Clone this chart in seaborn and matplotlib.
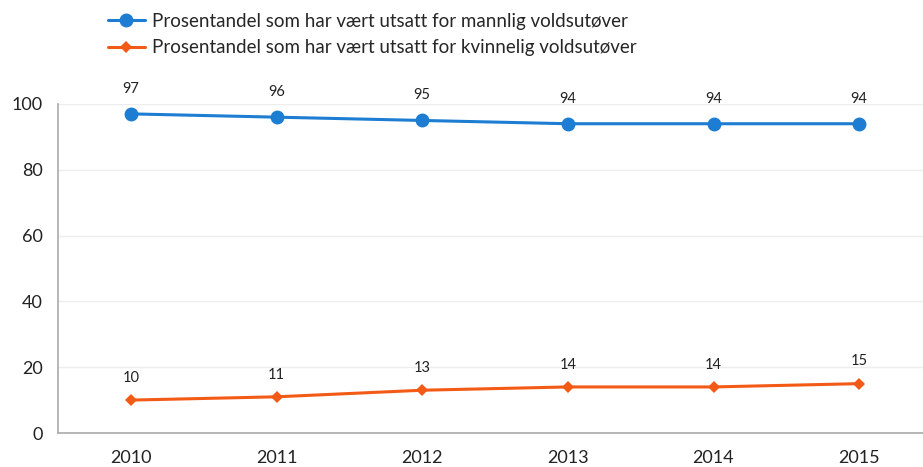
import numpy as np
import pandas as pd
import seaborn as sns
import matplotlib.pyplot as plt

sns.set_style('white')
plt.rcParams['font.family'] = ['Lato', 'DejaVu Sans']

years = ['2010', '2011', '2012', '2013', '2014', '2015']
mannlig = [97, 96, 95, 94, 94, 94]
kvinnelig = [10, 11, 13, 14, 14, 15]
lbl_m = 'Prosentandel som har vært utsatt for mannlig voldsutøver'
lbl_k = 'Prosentandel som har vært utsatt for kvinnelig voldsutøver'

blue = '#1C7DD2'
orange = '#F25A16'

df = pd.DataFrame({'year': years, 'mannlig': mannlig, 'kvinnelig': kvinnelig})

fig = plt.figure(figsize=(9.23, 4.67), dpi=100)
ax = fig.add_axes([58 / 923, 1 - 433 / 467, 874 / 923, 329 / 467])

sns.lineplot(data=df, x='year', y='mannlig', ax=ax, color=blue, lw=2.2,
             marker='o', markersize=10, markeredgewidth=0, label=lbl_m)
sns.lineplot(data=df, x='year', y='kvinnelig', ax=ax, color=orange, lw=2.2,
             marker='D', markersize=6, markeredgewidth=0, label=lbl_k)

# data labels
for i, (m, k) in enumerate(zip(mannlig, kvinnelig)):
    ax.annotate(str(m), (i, m), xytext=(0, 13), textcoords='offset points',
                ha='center', va='bottom', fontsize=10.5, color='#222222')
    ax.annotate(str(k), (i, k), xytext=(0, 11), textcoords='offset points',
                ha='center', va='bottom', fontsize=10.5, color='#222222')

ax.set_xlim(-0.5, 5.5)
ax.set_ylim(0, 100)
ax.set_yticks(np.arange(0, 101, 20))
ax.set_xlabel('')
ax.set_ylabel('')
ax.yaxis.grid(True, color='#ededed', lw=1)
ax.set_axisbelow(True)

ax.set_xticks(np.arange(-0.5, 5.6, 1), minor=True)
ax.tick_params(axis='x', which='major', length=0, labelsize=13, pad=12)
ax.tick_params(axis='x', which='minor', length=5, color='#aaaaaa', width=1, direction='out')
ax.tick_params(axis='y', length=5, color='#aaaaaa', width=1, direction='out', labelsize=13, pad=6)
for t in ax.get_xticklabels() + ax.get_yticklabels():
    t.set_color('#222222')

for s in ['top', 'right']:
    ax.spines[s].set_visible(False)
for s in ['left', 'bottom']:
    ax.spines[s].set_color('#aaaaaa')
    ax.spines[s].set_linewidth(1.2)

ax.get_legend().remove()
h, l = ax.get_legend_handles_labels()
fig.legend(h, l, loc='upper left', bbox_to_anchor=(100 / 923, 1 - 5 / 467), frameon=False,
           fontsize=13.5, handlelength=2.0, handletextpad=0.35, labelspacing=0.52,
           borderaxespad=0)

fig.savefig('out.png', dpi=100)
